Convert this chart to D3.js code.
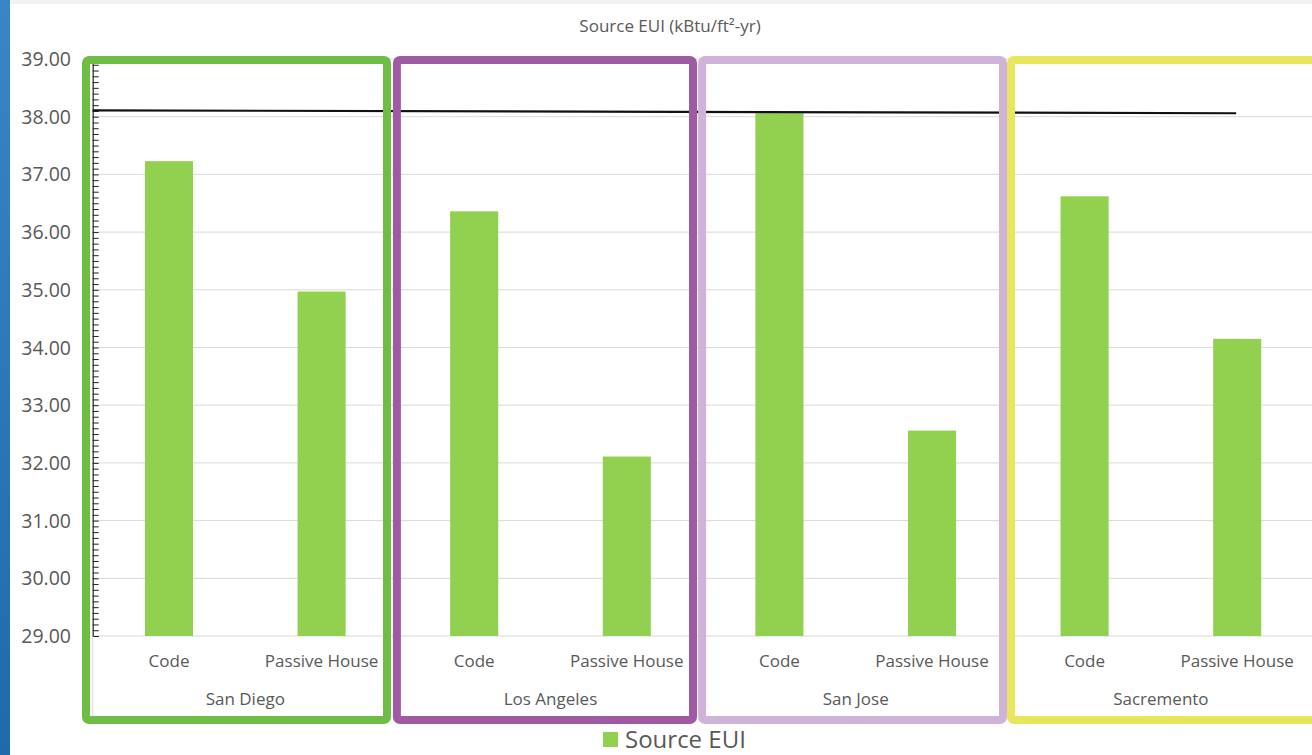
<!DOCTYPE html>
<html><head><meta charset="utf-8">
<script src="https://cdn.jsdelivr.net/npm/d3@7"></script>
<style>html,body{margin:0;padding:0;background:#fff;overflow:hidden}</style>
</head><body>
<svg id="c" width="1312" height="755"></svg>
<script>
const cities = ["San Diego", "Los Angeles", "San Jose", "Sacremento"];
const types = ["Code", "Passive House"];
const values = [37.23, 34.97, 36.36, 32.11, 38.06, 32.56, 36.62, 34.15];
const yTicks = [29, 30, 31, 32, 33, 34, 35, 36, 37, 38, 39];
const refLine = [38.11, 38.06];
const groupColors = ["#6fbd45", "#9e5aa3", "#d0b3d9", "#e8e65c"];
const title = "Source EUI (kBtu/ft²-yr)";
const legendLabel = "Source EUI";

const W = 1312, H = 755;
const svg = d3.select("#c");
const font = "'Open Sans', 'Noto Sans', sans-serif";
const txt = "#595959";

// background details
svg.append("rect").attr("x",0).attr("y",0).attr("width",W).attr("height",4).attr("fill","#f2f2f2");
const grad = svg.append("defs").append("linearGradient").attr("id","bl").attr("x1",0).attr("x2",0).attr("y1",0).attr("y2",1);
grad.append("stop").attr("offset","0%").attr("stop-color","#3a86c4");
grad.append("stop").attr("offset","100%").attr("stop-color","#1f6aa8");
svg.append("rect").attr("x",0).attr("y",0).attr("width",10).attr("height",H).attr("fill","url(#bl)");

const cats = [];
cities.forEach(c => types.forEach(t => cats.push(c + "|" + t)));

const x = d3.scaleBand().domain(cats).range([92.7, 1313.5]).paddingInner(0.685).paddingOuter(0.3425);
const y = d3.scaleLinear().domain([29, 39]).range([636, 59]);
const step = x.step();

// gridlines
svg.append("g").selectAll("line").data(yTicks).join("line")
  .attr("x1", 92.7).attr("x2", W).attr("y1", d => y(d)).attr("y2", d => y(d))
  .attr("stroke", "#d9d9d9").attr("stroke-width", 1);

// y labels
svg.append("g").selectAll("text").data(yTicks).join("text")
  .attr("x", 71).attr("y", d => y(d)).attr("dy", "0.36em")
  .attr("text-anchor", "end").attr("font-family", font).attr("font-size", 19.5).attr("fill", txt)
  .text(d => d.toFixed(2));

// y axis line and minor ticks
const yAxis = d3.axisRight(y).ticks(120).tickSize(6).tickFormat("");
const ya = svg.append("g").attr("transform", "translate(92.7,0)").call(yAxis);
ya.selectAll("line").attr("stroke", "#222").attr("stroke-width", 1);
ya.select(".domain").attr("stroke", "#222").attr("stroke-width", 1.2);

// bars
svg.append("g").selectAll("rect").data(values).join("rect")
  .attr("x", (d, i) => x(cats[i])).attr("width", x.bandwidth())
  .attr("y", d => y(d)).attr("height", d => y(29) - y(d))
  .attr("fill", "#92d050");

// category axis dividers
const bounds = cities.map((c, i) => x(cats[i*2]) - (step - x.bandwidth())/2);
svg.append("g").selectAll("line").data(bounds).join("line")
  .attr("x1", d => d).attr("x2", d => d).attr("y1", y(29)).attr("y2", 716)
  .attr("stroke", "#d9d9d9");

// category labels
svg.append("g").selectAll("text").data(cats).join("text")
  .attr("x", d => x(d) + x.bandwidth()/2).attr("y", 667)
  .attr("text-anchor", "middle").attr("font-family", font).attr("font-size", 17).attr("fill", txt)
  .text(d => d.split("|")[1]);
svg.append("g").selectAll("text").data(cities).join("text")
  .attr("x", (d, i) => bounds[i] + step).attr("y", 705)
  .attr("text-anchor", "middle").attr("font-family", font).attr("font-size", 17).attr("fill", txt)
  .text(d => d);

// reference line
const lx1 = 92.7, lx2 = x(cats[7]) + x.bandwidth()/2 - 1;
svg.append("line").attr("x1", lx1).attr("x2", lx2)
  .attr("y1", y(refLine[0])).attr("y2", y(refLine[1]))
  .attr("stroke", "#111").attr("stroke-width", 2.2);

// group boxes
const leftOff = [-6.7, -1, -1, 2.7];
const rightOff = [-10.9, -10.1, -5.3, 40];
svg.append("g").selectAll("rect").data(cities).join("rect")
  .attr("x", (d, i) => bounds[i] + leftOff[i])
  .attr("width", (d, i) => (bounds[i] + 2*step + rightOff[i]) - (bounds[i] + leftOff[i]))
  .attr("y", 60).attr("height", 660).attr("rx", 3)
  .attr("fill", "none").attr("stroke", (d, i) => groupColors[i]).attr("stroke-width", 8);

// title
svg.append("text").attr("x", 670).attr("y", 32).attr("text-anchor", "middle")
  .attr("font-family", font).attr("font-size", 17).attr("fill", txt)
  .text(title);

// legend
svg.append("rect").attr("x", 603).attr("y", 732).attr("width", 15).attr("height", 15).attr("fill", "#92d050");
svg.append("text").attr("x", 625).attr("y", 748).attr("font-family", font).attr("font-size", 24).attr("fill", txt).text(legendLabel);
</script>
</body></html>
